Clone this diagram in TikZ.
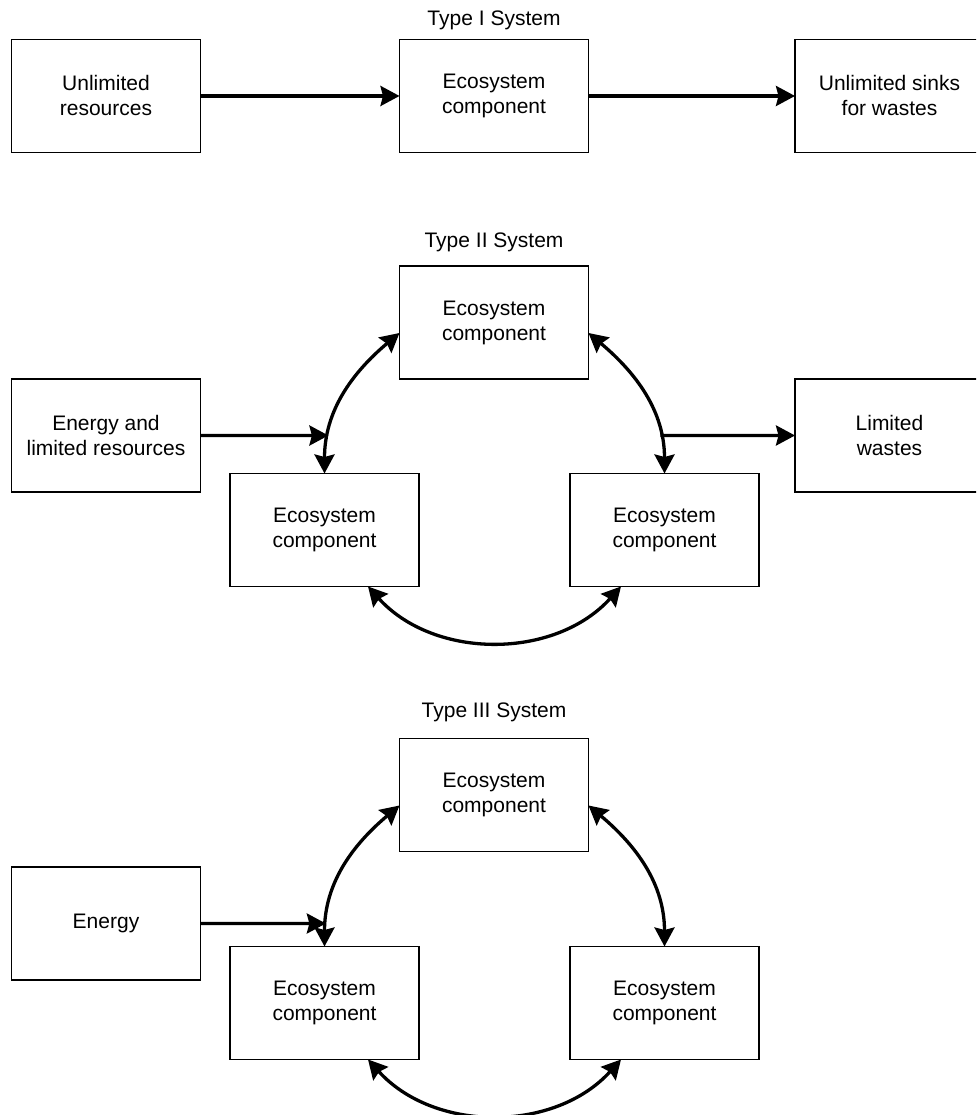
\documentclass[tikz,border=0pt]{standalone}
\usepackage{fontspec}
\setmainfont{Liberation Sans}
\usetikzlibrary{arrows.meta,intersections}
\begin{document}
\begin{tikzpicture}[x=1pt,y=1pt,
  box/.style={draw, line width=1.5pt, minimum width=189pt, minimum height=113pt,
    inner sep=0pt, outer sep=0pt, align=center, font=\fontsize{21pt}{25pt}\selectfont},
  heading/.style={font=\fontsize{21pt}{25pt}\selectfont, inner sep=0pt},
  flow/.style={line width=3.3pt, -{Stealth[length=19pt,width=20pt,inset=2.5pt]}},
  link/.style={line width=3.3pt, {Stealth[length=19pt,width=20pt,inset=2.5pt]}-{Stealth[length=19pt,width=20pt,inset=2.5pt]}},
]
\useasboundingbox (0,0) rectangle (976,1115);
\clip (0,0) rectangle (976,1115);

% ---------- Type I ----------
\node[heading] (h1) at (494,1095) {Type I System};
\node[box] (r1) at (106,1019) {Unlimited\\resources};
\node[box] (e1) at (494,1019) {Ecosystem\\component};
\node[box] (s1) at (889.5,1019) {Unlimited sinks\\for wastes};
\draw[flow] (r1) -- (e1);
\draw[flow] (e1) -- (s1);

% ---------- Type II ----------
\node[heading] (h2) at (494,873) {Type II System};
\node[box] (e2a) at (494,792.5) {Ecosystem\\component};
\node[box] (in2) at (106,679.5) {Energy and\\limited resources};
\node[box] (e2b) at (324.5,585) {Ecosystem\\component};
\node[box] (e2c) at (664.5,585) {Ecosystem\\component};
\node[box] (out2) at (889.5,679.5) {Limited\\wastes};

\draw[link, name path=arcL2] ([yshift=-10.5pt]e2a.west) to[out=220,in=90] (e2b.north);
\draw[link, name path=arcR2] ([yshift=-10.5pt]e2a.east) to[out=-40,in=90] (e2c.north);
\draw[link] ([xshift=43.5pt]e2b.south) to[out=-48,in=-132] ([xshift=-43.5pt]e2c.south);

\path[name path=rowIn2] (in2.east) -- ++(300,0);
\path[name intersections={of=arcL2 and rowIn2, by=j2in}];
\path[name path=rowOut2] (out2.west) -- ++(-300,0);
\path[name intersections={of=arcR2 and rowOut2, by=j2out}];
\draw[flow] (in2.east) -- (j2in);
\draw[flow] (j2out) -- (out2.west);

% ---------- Type III ----------
\node[heading] (h3) at (494,403) {Type III System};
\node[box] (e3a) at (494,320) {Ecosystem\\component};
\node[box] (en3) at (106,191.5) {Energy};
\node[box] (e3b) at (324.5,112) {Ecosystem\\component};
\node[box] (e3c) at (664.5,112) {Ecosystem\\component};

\draw[link, name path=arcL3] ([yshift=-10.5pt]e3a.west) to[out=220,in=90] (e3b.north);
\draw[link] ([yshift=-10.5pt]e3a.east) to[out=-40,in=90] (e3c.north);
\draw[link] ([xshift=43.5pt]e3b.south) to[out=-48,in=-132] ([xshift=-43.5pt]e3c.south);

\path[name path=rowIn3] (en3.east) -- ++(300,0);
\path[name intersections={of=arcL3 and rowIn3, by=j3in}];
\draw[flow] (en3.east) -- (j3in);
\end{tikzpicture}
\end{document}
